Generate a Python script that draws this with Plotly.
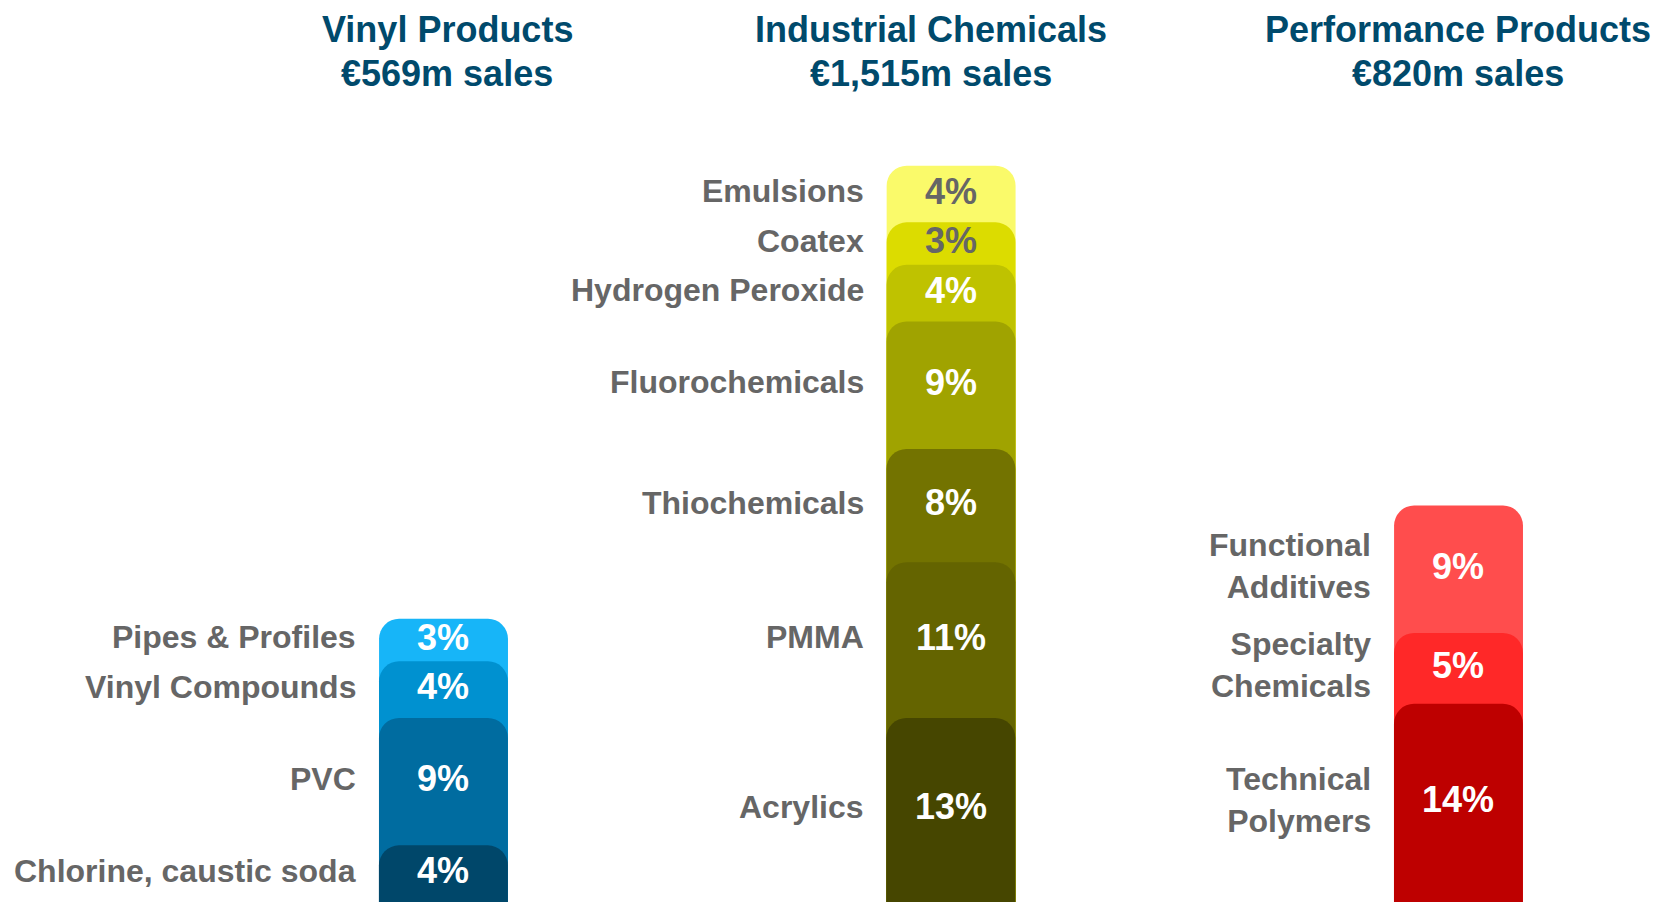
import numpy as np
import plotly.graph_objects as go

# segments listed bottom -> top for each division
groups = ["Vinyl Products", "Industrial Chemicals", "Performance Products"]
group_sales = ["€569m sales", "€1,515m sales", "€820m sales"]

vinyl_labels = ["Chlorine, caustic soda", "PVC", "Vinyl Compounds", "Pipes & Profiles"]
vinyl_values = [4, 9, 4, 3]
vinyl_colors = ["#00476A", "#006CA0", "#0091D0", "#17B5F8"]

industrial_labels = ["Acrylics", "PMMA", "Thiochemicals", "Fluorochemicals",
                     "Hydrogen Peroxide", "Coatex", "Emulsions"]
industrial_values = [13, 11, 8, 9, 4, 3, 4]
industrial_colors = ["#464600", "#646400", "#737300", "#A0A300",
                     "#BFC200", "#DCDC00", "#FAFA6A"]

performance_labels = ["Technical<br>Polymers", "Specialty<br>Chemicals", "Functional<br>Additives"]
performance_values = [14, 5, 9]
performance_colors = ["#BE0000", "#FF2828", "#FF4D4D"]

dark_text = ["Emulsions", "Coatex"]

GREY = "#666666"
TEAL = "#004A6C"
FONT = "Liberation Sans, Arial, sans-serif"
BAR_W = 0.254

fig = go.Figure()

series = [
    (vinyl_labels, vinyl_values, vinyl_colors),
    (industrial_labels, industrial_values, industrial_colors),
    (performance_labels, performance_values, performance_colors),
]

for gi, (labels, values, colors) in enumerate(series):
    tops = np.cumsum(values)
    bottoms = tops - np.array(values)
    n = len(values)
    # overlay: draw tallest first so each lower segment covers the one above it;
    # tiny x nudges keep plotly from merging them (so every segment keeps its rounded top)
    for i in reversed(range(n)):
        fig.add_trace(go.Bar(
            x=[gi + (i - (n - 1) / 2) * 1e-4], y=[tops[i]], width=BAR_W,
            marker=dict(color=colors[i], cornerradius=20, line=dict(width=0)),
            hoverinfo="skip", showlegend=False,
        ))
    mids = bottoms + np.array(values) / 2
    for l, v, m in zip(labels, values, mids):
        fig.add_annotation(
            x=gi, y=m, xref="x", yref="y", text=f"<b>{v}%</b>",
            xanchor="center", yanchor="middle", yshift=3, showarrow=False,
            font=dict(family=FONT, size=36,
                      color=GREY if l in dark_text else "white"),
        )
        fig.add_annotation(
            x=gi - BAR_W / 2, y=m, xref="x", yref="y", text=f"<b>{l}</b>",
            xanchor="right", yanchor="middle", align="right", xshift=-21, yshift=3,
            showarrow=False,
            font=dict(family=FONT, size=32, color=GREY),
        )

title_shift = [4, -20, 0]
for gi, (g, s) in enumerate(zip(groups, group_sales)):
    for txt, dy in ((g, 0), (s, -44)):
        fig.add_annotation(
            x=gi, y=1.0, xref="x", yref="paper", yanchor="top", yshift=dy,
            xshift=title_shift[gi], text=f"<b>{txt}</b>", showarrow=False,
            borderpad=0,
            font=dict(family=FONT, size=36, color=TEAL),
        )

fig.update_layout(
    width=1668, height=902,
    barmode="overlay",
    margin=dict(l=0, r=0, t=0, b=0),
    plot_bgcolor="white", paper_bgcolor="white",
    xaxis=dict(range=[-0.858, 2.4286], visible=False, fixedrange=True),
    yaxis=dict(range=[-0.565, 63.14], visible=False, fixedrange=True),
    hovermode=False,
)

fig.write_html("out.html")
